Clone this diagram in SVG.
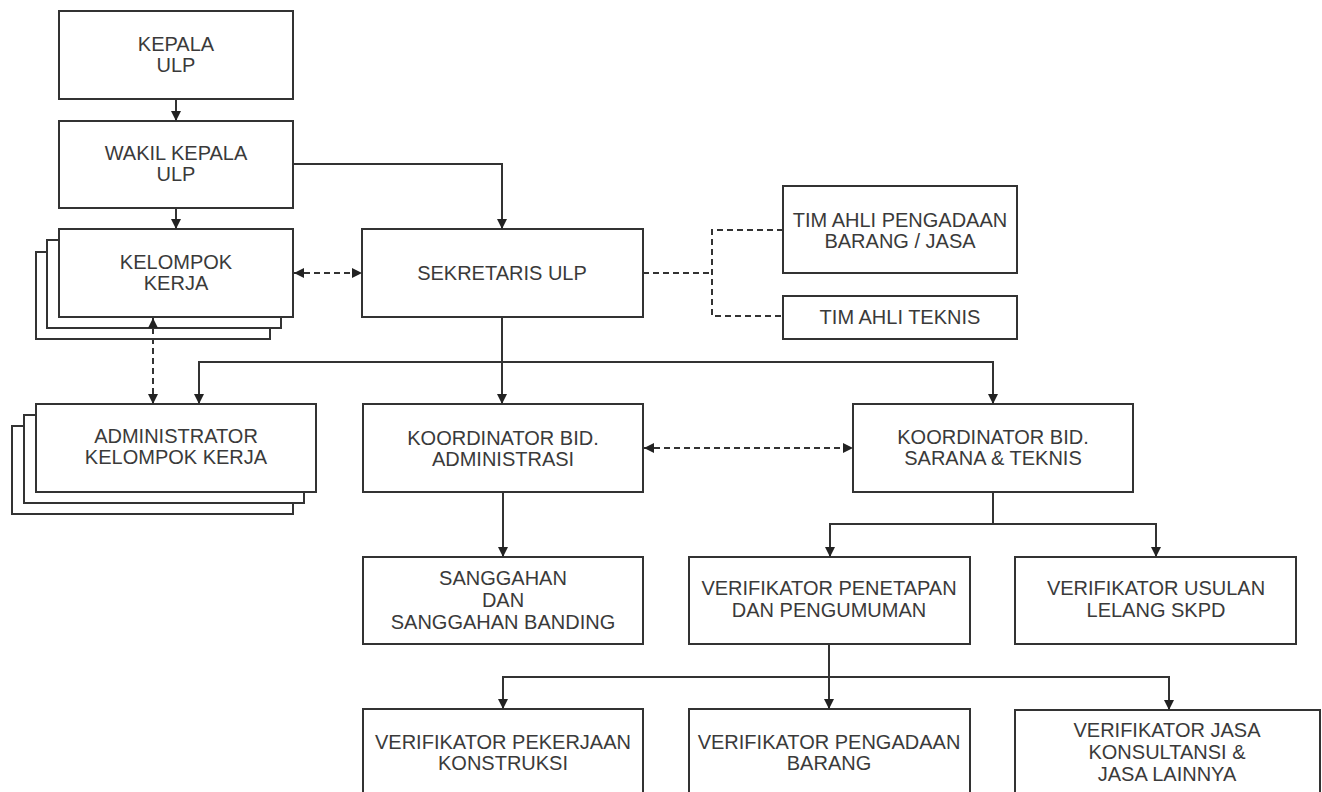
<svg xmlns="http://www.w3.org/2000/svg" width="1322" height="792" viewBox="0 0 1322 792">
<style>
.box{fill:#fff;stroke:#333;stroke-width:2}
.t{font-family:"Liberation Sans",Arial,sans-serif;font-size:20px;fill:#3a3a3a;text-anchor:middle}
.c{fill:none;stroke:#333;stroke-width:2}
.d{fill:none;stroke:#333;stroke-width:2;stroke-dasharray:6 4}
</style>
<defs>
<marker id="ah" viewBox="0 0 10 10" refX="10" refY="5" markerWidth="10" markerHeight="10" markerUnits="userSpaceOnUse" orient="auto-start-reverse">
<path d="M0,0 L10,5 L0,10 Z" fill="#222"/>
</marker>
</defs>
<rect width="1322" height="792" fill="#fff"/>
<g id="kepala">
<rect class="box" x="59" y="11" width="234" height="88"/>
<text class="t" x="176" y="51">KEPALA</text>
<text class="t" x="176" y="72">ULP</text>
</g>
<g id="wakil">
<rect class="box" x="59" y="121" width="234" height="87"/>
<text class="t" x="176" y="160">WAKIL KEPALA</text>
<text class="t" x="176" y="181">ULP</text>
</g>
<g id="kelompok-kerja">
<rect class="box" x="36" y="252" width="234" height="87"/>
<rect class="box" x="47" y="240" width="234" height="88"/>
<rect class="box" x="59" y="229" width="234" height="88"/>
<text class="t" x="176" y="269">KELOMPOK</text>
<text class="t" x="176" y="290">KERJA</text>
</g>
<g id="sekretaris">
<rect class="box" x="362" y="229" width="281" height="88"/>
<text class="t" x="502" y="280">SEKRETARIS ULP</text>
</g>
<g id="tim-ahli-pengadaan">
<rect class="box" x="783" y="186" width="234" height="87"/>
<text class="t" x="900" y="227">TIM AHLI PENGADAAN</text>
<text class="t" x="900" y="248">BARANG / JASA</text>
</g>
<g id="tim-ahli-teknis">
<rect class="box" x="783" y="296" width="234" height="43"/>
<text class="t" x="900" y="324">TIM AHLI TEKNIS</text>
</g>
<g id="administrator">
<rect class="box" x="12" y="426" width="281" height="88"/>
<rect class="box" x="24" y="415" width="280" height="88"/>
<rect class="box" x="36" y="404" width="280" height="88"/>
<text class="t" x="176" y="443">ADMINISTRATOR</text>
<text class="t" x="176" y="464">KELOMPOK KERJA</text>
</g>
<g id="koord-adm">
<rect class="box" x="363" y="404" width="280" height="88"/>
<text class="t" x="503" y="445">KOORDINATOR BID.</text>
<text class="t" x="503" y="466">ADMINISTRASI</text>
</g>
<g id="koord-sarana">
<rect class="box" x="853" y="404" width="280" height="88"/>
<text class="t" x="993" y="444">KOORDINATOR BID.</text>
<text class="t" x="993" y="465">SARANA &amp; TEKNIS</text>
</g>
<g id="sanggahan">
<rect class="box" x="363" y="557" width="280" height="87"/>
<text class="t" x="503" y="585">SANGGAHAN</text>
<text class="t" x="503" y="607">DAN</text>
<text class="t" x="503" y="629">SANGGAHAN BANDING</text>
</g>
<g id="verif-penetapan">
<rect class="box" x="689" y="557" width="281" height="87"/>
<text class="t" x="829" y="595">VERIFIKATOR PENETAPAN</text>
<text class="t" x="829" y="617">DAN PENGUMUMAN</text>
</g>
<g id="verif-usulan">
<rect class="box" x="1015" y="557" width="281" height="87"/>
<text class="t" x="1156" y="595">VERIFIKATOR USULAN</text>
<text class="t" x="1156" y="617">LELANG SKPD</text>
</g>
<g id="verif-pekerjaan">
<rect class="box" x="363" y="709" width="280" height="100"/>
<text class="t" x="503" y="749">VERIFIKATOR PEKERJAAN</text>
<text class="t" x="503" y="770">KONSTRUKSI</text>
</g>
<g id="verif-pengadaan">
<rect class="box" x="689" y="709" width="281" height="100"/>
<text class="t" x="829" y="749">VERIFIKATOR PENGADAAN</text>
<text class="t" x="829" y="770">BARANG</text>
</g>
<g id="verif-jasa">
<rect class="box" x="1015" y="710" width="305" height="100"/>
<text class="t" x="1167" y="737">VERIFIKATOR JASA</text>
<text class="t" x="1167" y="759">KONSULTANSI &amp;</text>
<text class="t" x="1167" y="781">JASA LAINNYA</text>
</g>
<g id="connectors">
<path class="c" d="M176,99 V121" marker-end="url(#ah)"/>
<path class="c" d="M176,208 V229" marker-end="url(#ah)"/>
<path class="c" d="M293,164 H502 V229" marker-end="url(#ah)"/>
<path class="d" d="M294,273 H362" marker-start="url(#ah)" marker-end="url(#ah)"/>
<path class="d" d="M153,318 V404" marker-start="url(#ah)" marker-end="url(#ah)"/>
<path class="c" d="M502,317 V404" marker-end="url(#ah)"/>
<path class="c" d="M199,404 V362 H993 V404" marker-start="url(#ah)" marker-end="url(#ah)"/>
<path class="d" d="M644,448 H853" marker-start="url(#ah)" marker-end="url(#ah)"/>
<path class="c" d="M503,492 V557" marker-end="url(#ah)"/>
<path class="c" d="M993,492 V524"/>
<path class="c" d="M830,557 V524 H1156 V557" marker-start="url(#ah)" marker-end="url(#ah)"/>
<path class="c" d="M829,644 V709" marker-end="url(#ah)"/>
<path class="c" d="M503,709 V677 H1169 V710" marker-start="url(#ah)" marker-end="url(#ah)"/>
<path class="d" d="M643,273 H712"/>
<path class="d" d="M783,230 H712 V316 H783"/>
</g>
</svg>
